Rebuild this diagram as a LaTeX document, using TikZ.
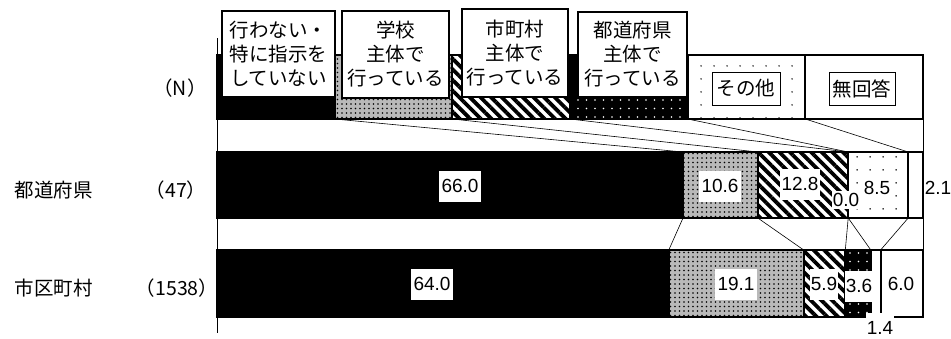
\documentclass[tikz,border=0pt]{standalone}
\usepackage{fontspec}
\setmainfont{Noto Sans CJK JP}
\newfontfamily\numfont{Liberation Sans}
\usetikzlibrary{patterns,patterns.meta}
\begin{document}
\begin{tikzpicture}[x=1pt,y=-1pt,
  seg/.style={draw=black,line width=2pt},
  s1/.style={seg,fill=black},
  s2/.style={seg,preaction={fill=gray!55},pattern={Dots[distance=4.5pt,radius=0.85pt]},pattern color=black},
  s3/.style={seg,preaction={fill=white},pattern={Lines[angle=-45,distance=7.5pt,line width=3.8pt]},pattern color=black},
  s4/.style={seg,preaction={fill=black},pattern={Dots[distance=8.5pt,radius=0.9pt]},pattern color=white},
  s5/.style={seg,preaction={fill=white},pattern={Dots[distance=13pt,radius=0.85pt]},pattern color=black},
  s6/.style={seg,fill=white},
  link/.style={draw=black,line width=0.6pt},
  axisline/.style={draw=black,line width=0.8pt},
  hdr/.style={draw=black,line width=2pt,fill=white,inner sep=0pt,align=center,font=\fontsize{19.5}{24}\selectfont},
  lgd/.style={draw=black,line width=0.8pt,fill=white,inner sep=0pt,minimum height=33pt,font=\fontsize{19.5}{24}\selectfont},
  val/.style={fill=white,inner xsep=3pt,inner ysep=0pt,minimum height=31pt,font=\numfont\fontsize{19}{22}\selectfont},
  vals/.style={val,inner xsep=1pt,minimum height=18pt},
  valn/.style={inner sep=0pt,font=\numfont\fontsize{19}{22}\selectfont},
  cat/.style={inner sep=0pt,font=\fontsize{19.5}{24}\selectfont}
]
\useasboundingbox (0,0) rectangle (951,338);

% boundary coordinates
\coordinate (H1) at (334.67,119);
\coordinate (H2) at (452.33,119);
\coordinate (H3) at (570,119);
\coordinate (H4) at (687.67,119);
\coordinate (H5) at (805.33,119);
\coordinate (H6) at (923,119);
\coordinate (A1t) at (683,152);   \coordinate (A1b) at (683,218);
\coordinate (A2t) at (757.8,152); \coordinate (A2b) at (757.8,218);
\coordinate (A3t) at (848.2,152); \coordinate (A3b) at (848.2,218);
\coordinate (A5t) at (908.2,152); \coordinate (A5b) at (908.2,218);
\coordinate (A6t) at (923,152);   \coordinate (A6b) at (923,218);
\coordinate (B1) at (668.8,250);
\coordinate (B2) at (803.7,250);
\coordinate (B3) at (845.3,250);
\coordinate (B4) at (870.8,250);
\coordinate (B5) at (880.6,250);
\coordinate (B6) at (923,250);
\coordinate (axtop) at (217,38);
\coordinate (axbot) at (217,333);

% series lines
\draw[link] (H1) -- (A1t);
\draw[link] (H2) -- (A2t);
\draw[link] (H3) -- (A3t);
\draw[link] (H4) -- (A3t);
\draw[link] (H5) -- (A5t);
\draw[link] (H6) -- (A6t);
\draw[link] (A1b) -- (B1);
\draw[link] (A2b) -- (B2);
\draw[link] (A3b) -- (B3);
\draw[link] (A3b) -- (B4);
\draw[link] (A5b) -- (B5);
\draw[link] (A6b) -- (B6);

% header bar
\path[s1] (217,55) rectangle (334.67,119);
\path[s2] (334.67,55) rectangle (452.33,119);
\path[s3] (452.33,55) rectangle (570,119);
\path[s4] (570,55) rectangle (687.67,119);
\path[s5] (687.67,55) rectangle (805.33,119);
\path[s6] (805.33,55) rectangle (923,119);

% row 1
\path[s1] (217,152) rectangle (683,218);
\path[s2] (683,152) rectangle (757.8,218);
\path[s3] (757.8,152) rectangle (848.2,218);
\path[s5] (848.2,152) rectangle (908.2,218);
\path[s6] (908.2,152) rectangle (923,218);

% row 2
\path[s1] (217,250) rectangle (668.8,317);
\path[s2] (668.8,250) rectangle (803.7,317);
\path[s3] (803.7,250) rectangle (845.3,317);
\path[s4] (845.3,250) rectangle (870.8,317);
\path[s5] (870.8,250) rectangle (880.6,317);
\path[s6] (880.6,250) rectangle (923,317);

\draw[axisline] (axtop) -- (axbot);

% header labels
\node[hdr,minimum width=113pt,minimum height=86pt] (k1) at (278.5,54) {行わない・\\特に指示を\\していない};
\node[hdr,minimum width=107pt,minimum height=87pt] (k2) at (395.5,54.5) {学校\\主体で\\行っている};
\node[hdr,minimum width=106pt,minimum height=88pt] (k3) at (515,53) {市町村\\主体で\\行っている};
\node[hdr,minimum width=109pt,minimum height=85pt] (k4) at (632.5,54.5) {都道府県\\主体で\\行っている};
\node[lgd,minimum width=68pt] (k5) at (746,88.5) {その他};
\node[lgd,minimum width=66pt] (k6) at (862,88.5) {無回答};

% category labels
\node[cat] (nN) at (180,88) {（N）};
\node[cat] (c1) at (54,190) {都道府県};
\node[cat] (n1) at (176,190) {（47）};
\node[cat] (c2) at (54,288) {市区町村};
\node[cat] (n2) at (177,288) {（1538）};

% values row 1
\node[val] (v11) at (460,186) {66.0};
\node[val] (v12) at (720,186) {10.6};
\node[val,inner xsep=1.5pt] (v13) at (800,184) {12.8};
\node[vals] (v14) at (846,200) {0.0};
\node[val,inner xsep=1.5pt] (v15) at (877,188) {8.5};
\node[valn] (v16) at (938,188) {2.1};

% values row 2
\node[val] (v21) at (432,284) {64.0};
\node[val] (v22) at (736,284) {19.1};
\node[val,inner xsep=1pt] (v23) at (824,284) {5.9};
\node[val,inner xsep=1pt] (v24) at (859,286) {3.6};
\node[val,inner xsep=1pt] (v25) at (880,328) {1.4};
\node[val,inner xsep=1pt] (v26) at (901,284) {6.0};
\end{tikzpicture}
\end{document}
